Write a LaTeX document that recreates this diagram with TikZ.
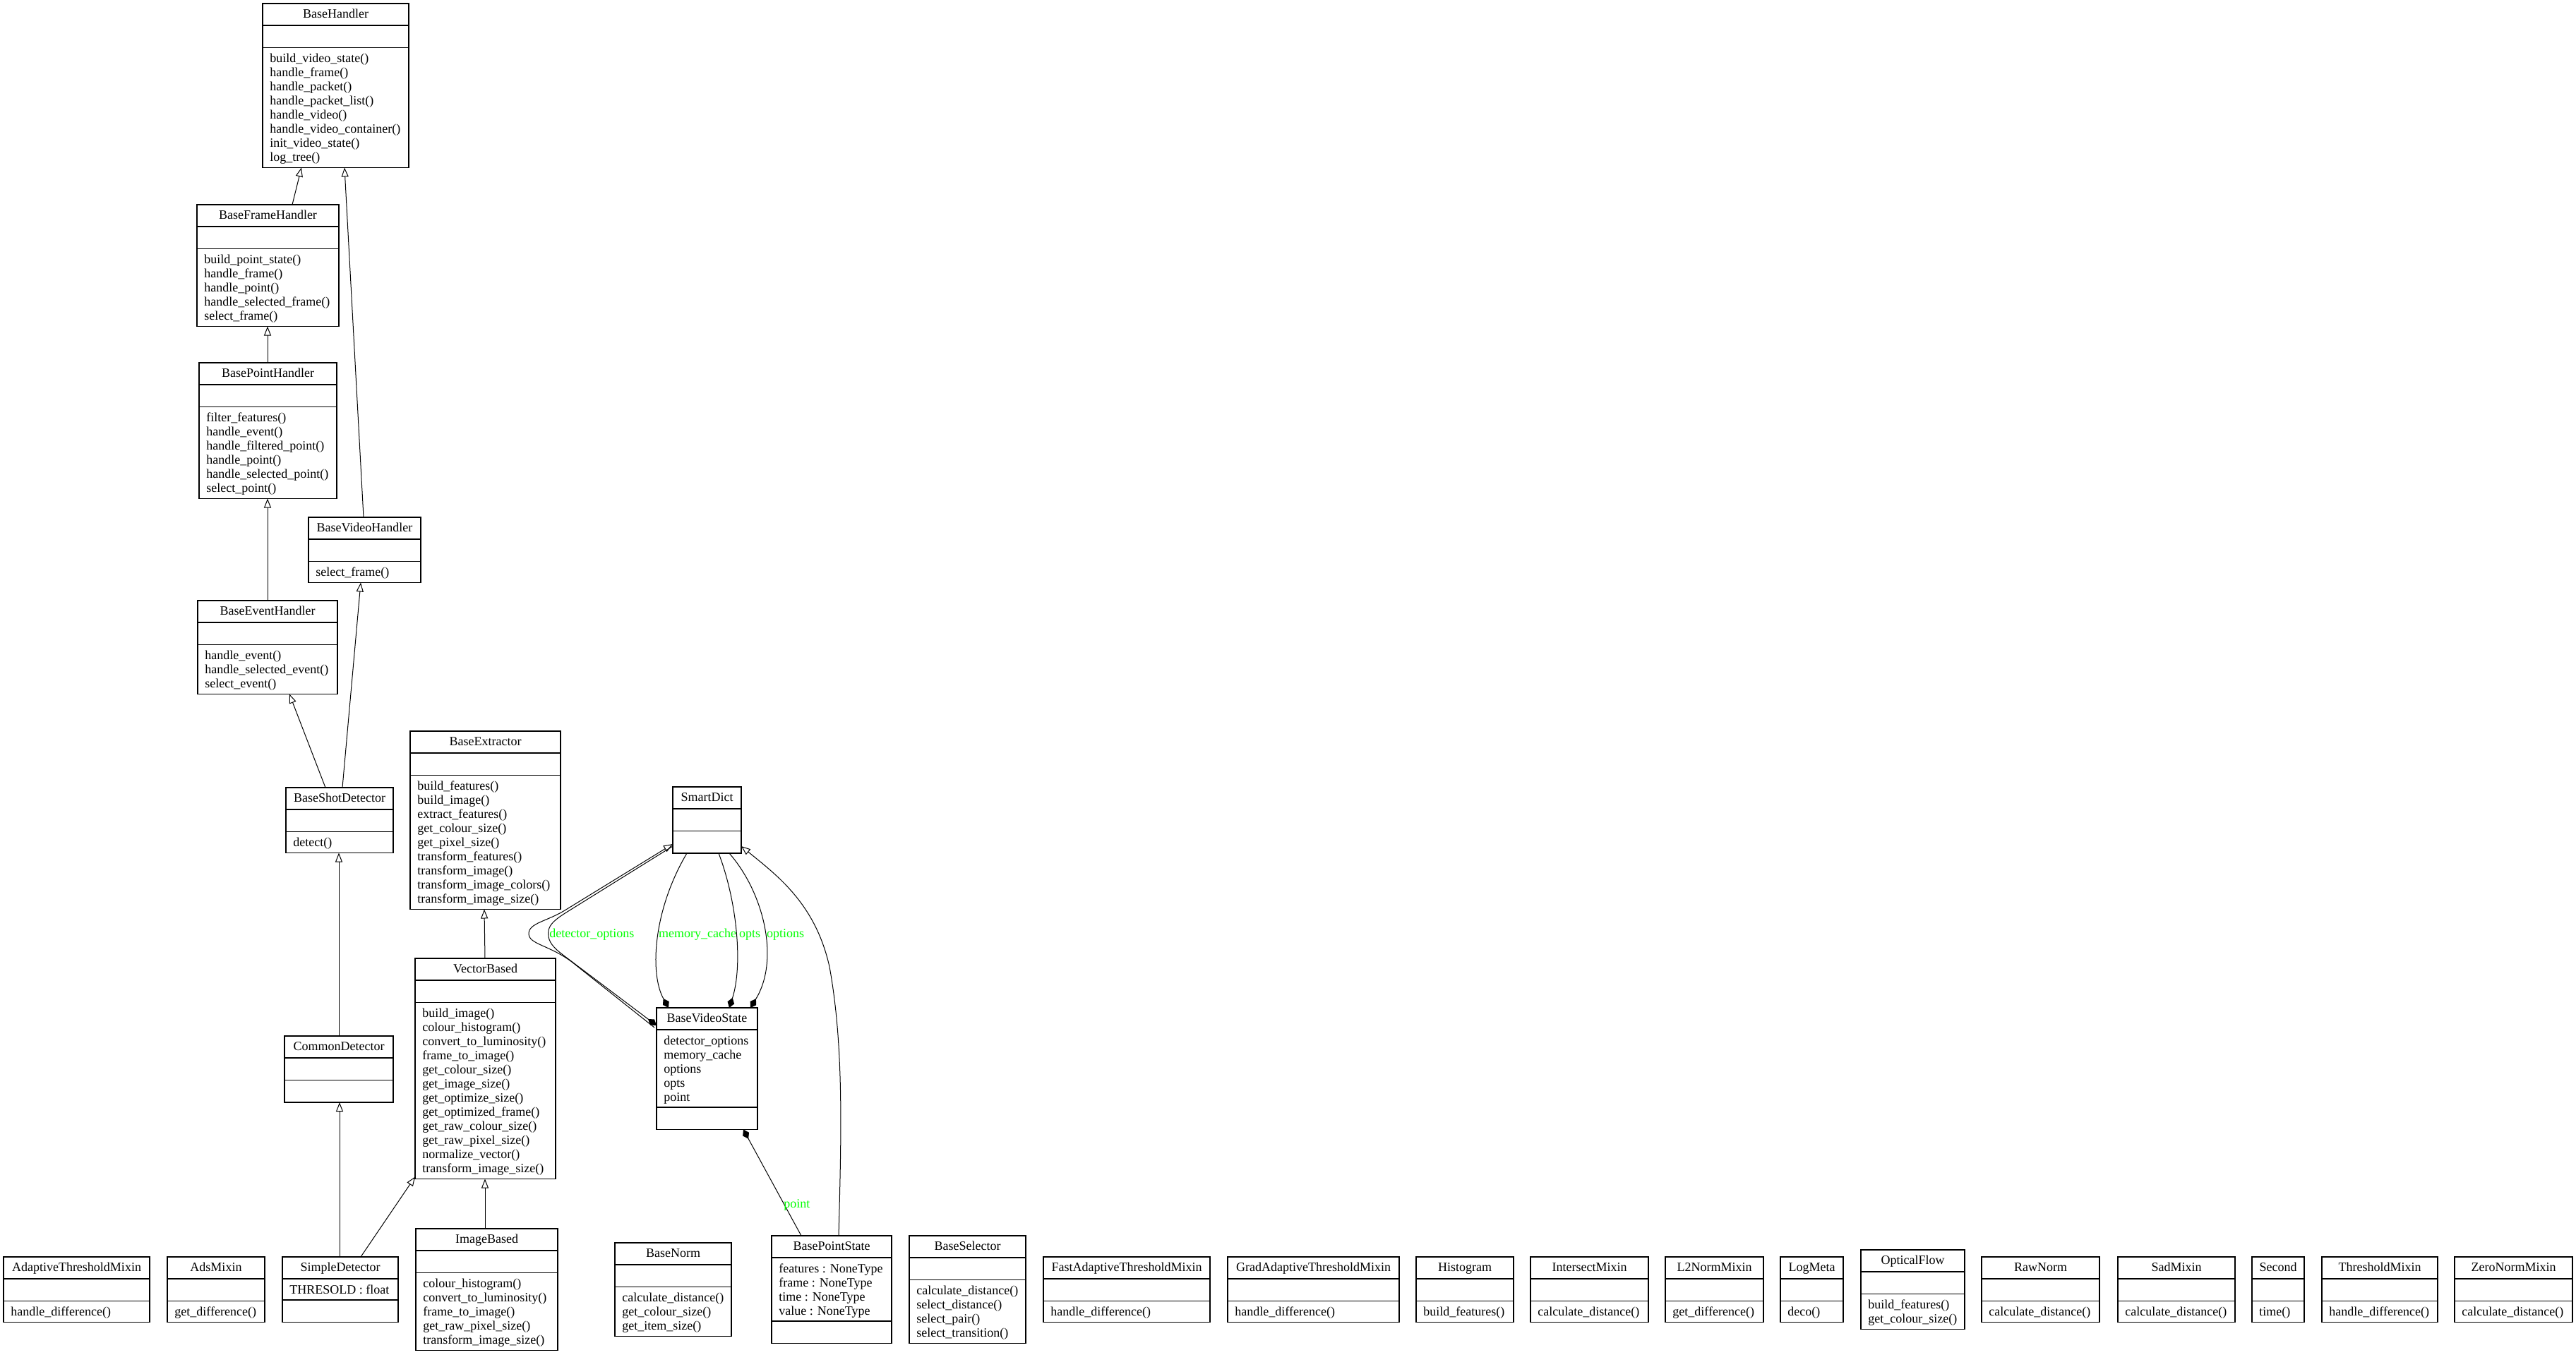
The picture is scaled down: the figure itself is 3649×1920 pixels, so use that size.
\documentclass[tikz,border=0pt]{standalone}
\usepackage{fontspec}
\setmainfont{Liberation Serif}
\usetikzlibrary{arrows.meta,calc}
\newcommand\fs{\fontsize{9}{10}\selectfont}
\tikzset{
 classbox/.style={draw, line width=0.65pt, inner sep=0pt, outer sep=0pt, anchor=north west},
 sepline/.style={line width=0.65pt},
 txt/.style={inner sep=0pt, font=\fs},
 lbl/.style={inner sep=0pt, font=\fs, text=green, anchor=base west},
 inh/.style={draw, line width=0.5pt, -{Triangle[open, length=6.5pt, width=5pt]}},
 comp/.style={draw, line width=0.5pt, -{Diamond[length=7.5pt, width=5pt]}},
}
\newcommand\umlclass[9]{%
  \pgfmathsetmacro\ya{#3+31}%
  \pgfmathsetmacro\yb{\ya+ifthenelse(#6==0,31.5,#6*20+10)}%
  \pgfmathsetmacro\yc{\yb+ifthenelse(#8==0,31.5,#8*20+10)}%
  \pgfmathsetmacro\bw{(#4-#2)*0.5}%
  \pgfmathsetmacro\bh{(\yc-#3)*0.5}%
  \node[classbox, minimum width=\bw pt, minimum height=\bh pt] (#1) at (#2,#3) {};%
  \draw[sepline] (#2,\ya) -- (#4,\ya) (#2,\yb) -- (#4,\yb);%
  \node[txt, anchor=base] (#1-t) at ({(#2+#4)/2},{#3+20.5}) {#5};%
  \ifnum#6>0 \node[txt, anchor=base west] (#1-a) at ({#2+10},{\ya+21}) {\begin{tabular}[t]{@{}l@{}}#7\end{tabular}};\fi
  \ifnum#8>0 \node[txt, anchor=base west] (#1-m) at ({#2+10},{\yb+21}) {\begin{tabular}[t]{@{}l@{}}#9\end{tabular}};\fi
}
\begin{document}
\begin{tikzpicture}[x=0.5pt, y=-0.5pt]
\useasboundingbox (0,0) rectangle (3649,1920);
\fill[white] (0,0) rectangle (3649,1920);

\umlclass{bh}{372}{5}{579}{BaseHandler}{0}{}{8}{build\_video\_state()\\handle\_frame()\\handle\_packet()\\handle\_packet\_list()\\handle\_video()\\handle\_video\_container()\\init\_video\_state()\\log\_tree()}
\umlclass{bfh}{279}{290}{480}{BaseFrameHandler}{0}{}{5}{build\_point\_state()\\handle\_frame()\\handle\_point()\\handle\_selected\_frame()\\select\_frame()}
\umlclass{bph}{282}{514}{477}{BasePointHandler}{0}{}{6}{filter\_features()\\handle\_event()\\handle\_filtered\_point()\\handle\_point()\\handle\_selected\_point()\\select\_point()}
\umlclass{bvh}{437}{733}{596}{BaseVideoHandler}{0}{}{1}{select\_frame()}
\umlclass{beh}{280}{851}{478}{BaseEventHandler}{0}{}{3}{handle\_event()\\handle\_selected\_event()\\select\_event()}
\umlclass{bsd}{405}{1116}{557}{BaseShotDetector}{0}{}{1}{detect()}
\umlclass{bex}{581}{1036}{794}{BaseExtractor}{0}{}{9}{build\_features()\\build\_image()\\extract\_features()\\get\_colour\_size()\\get\_pixel\_size()\\transform\_features()\\transform\_image()\\transform\_image\_colors()\\transform\_image\_size()}
\umlclass{vb}{588}{1358}{787}{VectorBased}{0}{}{12}{build\_image()\\colour\_histogram()\\convert\_to\_luminosity()\\frame\_to\_image()\\get\_colour\_size()\\get\_image\_size()\\get\_optimize\_size()\\get\_optimized\_frame()\\get\_raw\_colour\_size()\\get\_raw\_pixel\_size()\\normalize\_vector()\\transform\_image\_size()}
\umlclass{cd}{403}{1468}{557}{CommonDetector}{0}{}{0}{}
\umlclass{sd}{953}{1115}{1050}{SmartDict}{0}{}{0}{}
\umlclass{bvs}{930}{1428}{1073}{BaseVideoState}{5}{detector\_options\\memory\_cache\\options\\opts\\point}{0}{}

\umlclass{atm}{5}{1781}{212}{AdaptiveThresholdMixin}{0}{}{1}{handle\_difference()}
\umlclass{ads}{237}{1781}{375}{AdsMixin}{0}{}{1}{get\_difference()}
\umlclass{simd}{400}{1781}{564}{SimpleDetector}{1}{THRESOLD : float}{0}{}
\umlclass{ib}{589}{1741}{790}{ImageBased}{0}{}{5}{colour\_histogram()\\convert\_to\_luminosity()\\frame\_to\_image()\\get\_raw\_pixel\_size()\\transform\_image\_size()}
\umlclass{bn}{871}{1761}{1036}{BaseNorm}{0}{}{3}{calculate\_distance()\\get\_colour\_size()\\get\_item\_size()}
\umlclass{bps}{1093}{1751}{1263}{BasePointState}{4}{features : NoneType\\frame : NoneType\\time : NoneType\\value : NoneType}{0}{}
\umlclass{bsel}{1288}{1751}{1453}{BaseSelector}{0}{}{4}{calculate\_distance()\\select\_distance()\\select\_pair()\\select\_transition()}
\umlclass{fatm}{1478}{1781}{1714}{FastAdaptiveThresholdMixin}{0}{}{1}{handle\_difference()}
\umlclass{gatm}{1739}{1781}{1982}{GradAdaptiveThresholdMixin}{0}{}{1}{handle\_difference()}
\umlclass{hist}{2006}{1781}{2144}{Histogram}{0}{}{1}{build\_features()}
\umlclass{imx}{2168}{1781}{2335}{IntersectMixin}{0}{}{1}{calculate\_distance()}
\umlclass{ltwo}{2359}{1781}{2498}{L2NormMixin}{0}{}{1}{get\_difference()}
\umlclass{logm}{2522}{1781}{2611}{LogMeta}{0}{}{1}{deco()}
\umlclass{of}{2636}{1771}{2783}{OpticalFlow}{0}{}{2}{build\_features()\\get\_colour\_size()}
\umlclass{rn}{2807}{1781}{2974}{RawNorm}{0}{}{1}{calculate\_distance()}
\umlclass{sad}{3000}{1781}{3166}{SadMixin}{0}{}{1}{calculate\_distance()}
\umlclass{sec}{3190}{1781}{3264}{Second}{0}{}{1}{time()}
\umlclass{thr}{3289}{1781}{3453}{ThresholdMixin}{0}{}{1}{handle\_difference()}
\umlclass{zn}{3477}{1781}{3644}{ZeroNormMixin}{0}{}{1}{calculate\_distance()}

% inheritance
\draw[inh] ($(bfh.north west)+(135,0)$) -- ($(bh.south west)+(55,0)$);
\draw[inh] ($(bvh.north west)+(78,0)$) -- ($(bh.south west)+(116,0)$);
\draw[inh] ($(bph.north west)+(97,0)$) -- ($(bfh.south west)+(100,0)$);
\draw[inh] ($(beh.north west)+(99,0)$) -- ($(bph.south west)+(97,0)$);
\draw[inh] ($(bsd.north west)+(56,0)$) -- ($(beh.south west)+(130,0)$);
\draw[inh] ($(bsd.north west)+(80,0)$) -- ($(bvh.south west)+(74,0)$);
\draw[inh] ($(cd.north west)+(77,0)$) -- ($(bsd.south west)+(75,0)$);
\draw[inh] ($(simd.north west)+(81,0)$) -- ($(cd.south west)+(78,0)$);
\draw[inh] ($(simd.north west)+(111,0)$) -- ($(vb.south west)+(0,-3)$);
\draw[inh] ($(ib.north west)+(98,0)$) -- ($(vb.south west)+(99,0)$);
\draw[inh] ($(vb.north west)+(99,0)$) -- ($(bex.south west)+(105,0)$);
\draw[inh] ($(bvs.north west)+(-3,28)$) -- (810,1363) .. controls (778,1339) and (749,1338) .. (749,1323) .. controls (749,1308) and (774.5,1305.6) .. (800,1290) -- ($(sd.south west)+(0,-13)$);
\draw[inh] ($(bps.north west)+(95,0)$) .. controls (1192,1600) and (1195,1480) .. (1175,1370) .. controls (1155,1280) and (1100,1240) .. ($(sd.south east)+(0,-10)$);

% composition
\draw[comp] ($(sd.south west)+(0,-10)$) -- (810,1288) .. controls (793,1298.6) and (776.5,1308) .. (776.5,1322) .. controls (776.5,1335) and (784,1343) .. (800,1355) -- ($(bvs.north west)+(0,25)$);
\draw[comp] ($(sd.south west)+(20,0)$) .. controls (925,1290) and (920,1380) .. ($(bvs.north west)+(17,0)$);
\draw[comp] ($(sd.south west)+(65,0)$) .. controls (1045,1280) and (1052,1370) .. ($(bvs.north west)+(103,0)$);
\draw[comp] ($(sd.south west)+(80,0)$) .. controls (1082,1265) and (1105,1360) .. ($(bvs.north west)+(133,0)$);
\draw[comp] ($(bps.north west)+(42,0)$) -- ($(bvs.south west)+(123,0)$);

% labels
\node[lbl] (ldet) at (778,1328) {detector\_options};
\node[lbl] (lmem) at (932.7,1328) {memory\_cache};
\node[lbl] (lopts) at (1046.7,1328) {opts};
\node[lbl] (lopt) at (1085.7,1328) {options};
\node[lbl] (lpt) at (1110,1711) {point};
\end{tikzpicture}
\end{document}
